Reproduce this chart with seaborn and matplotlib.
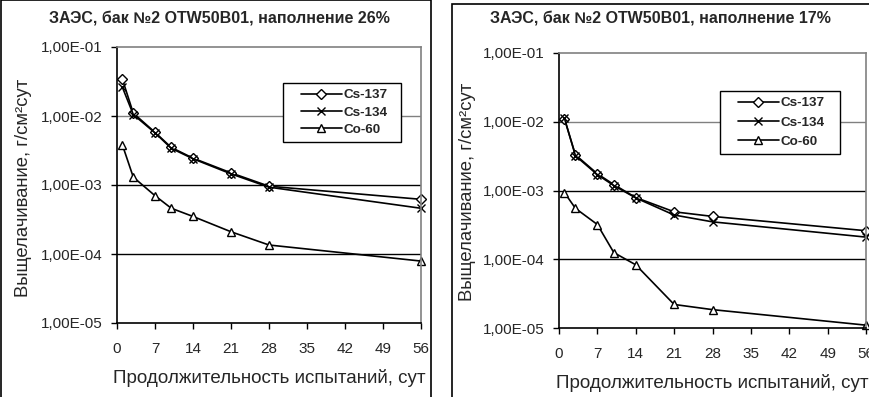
import matplotlib
matplotlib.use("Agg")
import matplotlib.pyplot as plt
import seaborn as sns
import pandas as pd
from matplotlib.patches import Rectangle
from matplotlib.lines import Line2D
from matplotlib.legend_handler import HandlerLine2D
from matplotlib.ticker import FixedLocator, FixedFormatter

sns.set_style("white")
plt.rcParams['font.family'] = ['Liberation Sans', 'DejaVu Sans']

days = [1, 3, 7, 10, 14, 21, 28, 56]

cs137_26 = [3.4e-2, 1.1e-2, 5.8e-3, 3.5e-3, 2.45e-3, 1.5e-3, 9.6e-4, 6.2e-4]
cs134_26 = [2.6e-2, 1.05e-2, 5.7e-3, 3.4e-3, 2.4e-3, 1.45e-3, 9.3e-4, 4.6e-4]
co60_26 = [3.8e-3, 1.3e-3, 7.0e-4, 4.6e-4, 3.5e-4, 2.1e-4, 1.35e-4, 7.9e-5]

cs137_17 = [1.1e-2, 3.3e-3, 1.75e-3, 1.22e-3, 7.9e-4, 4.9e-4, 4.2e-4, 2.6e-4]
cs134_17 = [1.12e-2, 3.2e-3, 1.7e-3, 1.18e-3, 7.8e-4, 4.4e-4, 3.5e-4, 2.1e-4]
co60_17 = [9.3e-4, 5.5e-4, 3.2e-4, 1.25e-4, 8.3e-5, 2.2e-5, 1.85e-5, 1.1e-5]

series_names = ["Cs-137", "Cs-134", "Co-60"]
titles = ["ЗАЭС, бак №2 OTW50B01, наполнение 26%",
          "ЗАЭС, бак №2 OTW50B01, наполнение 17%"]
y_ticks = [1e-5, 1e-4, 1e-3, 1e-2, 1e-1]
y_tick_labels = ["1,00E-05", "1,00E-04", "1,00E-03", "1,00E-02", "1,00E-01"]
x_ticks = [0, 7, 14, 21, 28, 35, 42, 49, 56]
xlabel = "Продолжительность испытаний, сут"
ylabel = "Выщелачивание, г/см²сут"

W, H = 869, 397
fig = plt.figure(figsize=(W / 100, H / 100), dpi=100)

def fx(px):
    return px / W

def fy(py):
    return 1 - py / H

# panel frames
fig.patches.append(Rectangle((fx(1), fy(400)), fx(430), 400 / H, transform=fig.transFigure,
                             fill=False, edgecolor='black', lw=1.2, clip_on=False))
fig.patches.append(Rectangle((fx(452), fy(400)), fx(430), (400 - 4) / H, transform=fig.transFigure,
                             fill=False, edgecolor='black', lw=1.2, clip_on=False))

ax_pos = [
    [fx(117), fy(323), fx(421 - 117), (323 - 47) / H],
    [fx(559), fy(328), fx(866 - 559), (328 - 53) / H],
]
data_sets = [
    [cs137_26, cs134_26, co60_26],
    [cs137_17, cs134_17, co60_17],
]
title_y = [18, 18]
title_x = [219, 660]
legend_boxes = [(283, 83, 401, 144), (720, 91, 840, 158)]
legend_spacing = [0.36, 0.5]
ylabel_x = [24, 468]
ylabel_y = [188, 192]
markers = ['D', 'x', '^']
msizes = [5, 6, 6]

for i in range(2):
    ax = fig.add_axes(ax_pos[i])
    for name, vals, mk, ms in zip(series_names, data_sets[i], markers, msizes):
        df = pd.DataFrame({"day": days, "val": vals})
        sns.lineplot(data=df, x="day", y="val", ax=ax, color='black', lw=1.2,
                     marker=mk, markersize=ms, markerfacecolor='white',
                     markeredgecolor='black', markeredgewidth=1.0,
                     label=name, clip_on=False)
    ax.set_yscale('log')
    ax.set_ylim(1e-5, 1e-1)
    ax.set_xlim(0, 56)
    ax.yaxis.set_major_locator(FixedLocator(y_ticks))
    ax.yaxis.set_major_formatter(FixedFormatter(y_tick_labels))
    ax.yaxis.set_minor_locator(FixedLocator([]))
    ax.set_xticks(x_ticks)
    ax.set_xticklabels([str(t) for t in x_ticks])
    ax.tick_params(axis='both', which='major', direction='out', length=4, width=1,
                   color='black', labelsize=11, left=True, bottom=True)
    ax.tick_params(axis='x', pad=10)
    ax.tick_params(axis='y', pad=6)
    for yv in [1e-4, 1e-3, 1e-2]:
        ax.axhline(yv, color='#000000' if yv < 1e-2 else '#808080', lw=1, zorder=0)
    for s in ['top', 'right']:
        ax.spines[s].set_color('#808080')
        ax.spines[s].set_linewidth(1.2)
    for s in ['left', 'bottom']:
        ax.spines[s].set_color('black')
        ax.spines[s].set_linewidth(1.2)
    ax.set_xlabel(xlabel, fontsize=13.5, labelpad=9)
    ax.set_ylabel("")
    fig.text(fx(ylabel_x[i]), fy(ylabel_y[i]), ylabel, rotation=90, ha='center', va='center',
             fontsize=13.3)
    fig.text(fx(title_x[i]), fy(title_y[i]), titles[i], ha='center', va='center',
             fontsize=11.5, fontweight='bold')
    lb = legend_boxes[i]
    leg = ax.legend(loc='upper left',
                    bbox_to_anchor=(fx(lb[0]), fy(lb[3]), fx(lb[2] - lb[0]), (lb[3] - lb[1]) / H),
                    bbox_transform=fig.transFigure, mode='expand',
                    frameon=True, fancybox=False, framealpha=1, edgecolor='black',
                    prop={'weight': 'bold', 'size': 9.7}, handlelength=3.9, handletextpad=0.17,
                    borderpad=0.45, labelspacing=legend_spacing[i], borderaxespad=0,
                    handler_map={Line2D: HandlerLine2D(xpad=0.87)})
    leg.get_frame().set_linewidth(1.0)

fig.savefig("out.png", dpi=100)
